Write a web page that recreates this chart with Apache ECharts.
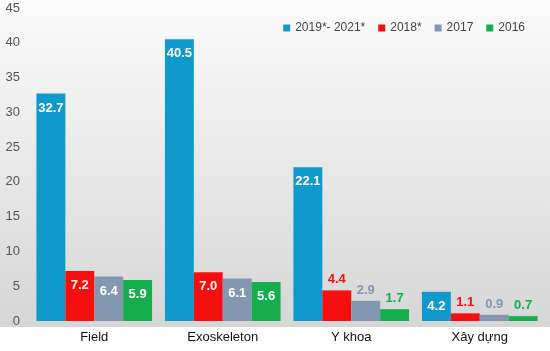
<!DOCTYPE html>
<html>
<head>
<meta charset="utf-8">
<script src="https://cdn.jsdelivr.net/npm/echarts@6/dist/echarts.min.js"></script>
<style>
  html, body { margin: 0; padding: 0; background: #fff; }
  #main { width: 550px; height: 351px; }
</style>
</head>
<body>
<div id="main"></div>
<script>
var categories = ['Field', 'Exoskeleton', 'Y khoa', 'Xây dựng'];
var seriesNames = ['2019*- 2021*', '2018*', '2017', '2016'];
var s2019 = [32.7, 40.5, 22.1, 4.2];
var s2018 = [7.2, 7.0, 4.4, 1.1];
var s2017 = [6.4, 6.1, 2.9, 0.9];
var s2016 = [5.9, 5.6, 1.7, 0.7];
var colors = ['#0f99cc', '#f50f0f', '#8497b0', '#14ae4d'];

var chart = echarts.init(document.getElementById('main'));

// blue always labels inside; others go above when the bar is short
function makeData(values, idx) {
  return values.map(function (v) {
    var inside = idx === 0 || v >= 5;
    return {
      value: v,
      label: inside
        ? { position: 'insideTop', color: '#fff', distance: 8 }
        : { position: 'top', color: colors[idx], distance: 4 }
    };
  });
}

var all = [s2019, s2018, s2017, s2016];
var series = all.map(function (vals, i) {
  return {
    name: seriesNames[i],
    type: 'bar',
    barGap: '0%',
    barCategoryGap: '10%',
    itemStyle: { color: colors[i] },
    label: {
      show: true,
      fontFamily: 'Liberation Sans',
      fontWeight: 'bold',
      fontSize: 13,
      formatter: function (p) { return p.value.toFixed(1); }
    },
    data: makeData(vals, i)
  };
});

var option = {
  animation: false,
  textStyle: { fontFamily: 'Liberation Sans' },
  graphic: [{
    type: 'rect',
    z: -10,
    silent: true,
    shape: { x: 0, y: 0, width: 550, height: 327 },
    style: {
      fill: new echarts.graphic.LinearGradient(0, 0, 0, 1, [
        { offset: 0, color: '#fbfbfb' },
        { offset: 1, color: '#d6d6d6' }
      ])
    }
  }],
  legend: {
    data: seriesNames,
    right: 20,
    top: 17,
    icon: 'rect',
    itemWidth: 7,
    itemHeight: 7,
    itemGap: 13,
    textStyle: { fontSize: 12, color: '#444', fontFamily: 'Liberation Sans' }
  },
  grid: { left: 30, right: 6, top: 8, bottom: 30 },
  xAxis: {
    type: 'category',
    data: categories,
    axisLine: { show: false },
    axisTick: { show: false },
    axisLabel: { color: '#111', fontSize: 13, margin: 10 }
  },
  yAxis: {
    type: 'value',
    min: 0,
    max: 45,
    interval: 5,
    axisLine: { show: false },
    axisTick: { show: false },
    splitLine: { show: false },
    axisLabel: { color: '#555', fontSize: 13, margin: 10 }
  },
  series: series
};

option && chart.setOption(option);
</script>
</body>
</html>
